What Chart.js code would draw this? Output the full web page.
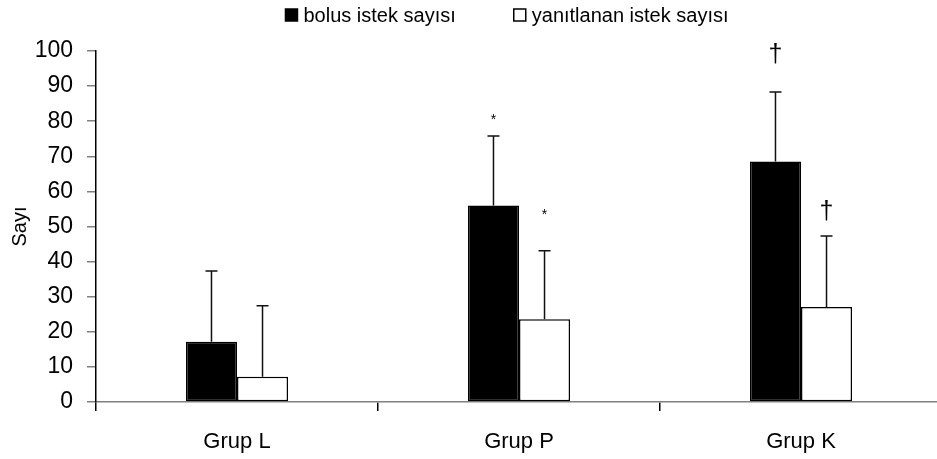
<!DOCTYPE html>
<html>
<head>
<meta charset="utf-8">
<script src="https://cdn.jsdelivr.net/npm/chart.js@4/dist/chart.umd.min.js"></script>
<style>
  html, body { margin: 0; padding: 0; background: #fff; overflow: hidden; }
  #wrap { width: 942px; height: 459px; }
</style>
</head>
<body>
<div id="wrap"><canvas id="chart" width="942" height="459"></canvas></div>
<script>
const groups = ['Grup L', 'Grup P', 'Grup K']
const seriesNames = ['bolus istek sayısı', 'yanıtlanan istek sayısı']
const bolusValues = [17.2, 56, 68.5]
const bolusSd = [20.1, 19.8, 19.8]
const answeredValues = [7.2, 23.6, 27.1]
const answeredSd = [20.2, 19.5, 20.2]
const yTicks = [0, 10, 20, 30, 40, 50, 60, 70, 80, 90, 100]
// significance marks above bars: [dataset][group], and where they sit on the y scale
const marks = [['', '*', '†'], ['', '*', '†']]
const markValues = [[0, 81.2, 98.9], [0, 54.1, 54.2]]

Chart.defaults.color = '#000'
Chart.defaults.font.family = '"Liberation Sans", Arial, sans-serif'

const errorBars = {
    id: 'errorBars',
    afterDatasetsDraw(chart) {
        const c = chart.ctx
        const y = chart.scales.y
        chart.data.datasets.forEach((ds, i) => {
            const meta = chart.getDatasetMeta(i)
            meta.data.forEach((bar, j) => {
                const top = y.getPixelForValue(ds.data[j] + ds.sd[j])
                const base = y.getPixelForValue(ds.data[j])
                c.save()
                c.strokeStyle = '#111'
                c.lineWidth = 1.5
                c.beginPath()
                c.moveTo(bar.x, base)
                c.lineTo(bar.x, top)
                c.moveTo(bar.x - 6, top)
                c.lineTo(bar.x + 6, top)
                c.stroke()
                const m = marks[i][j]
                if (m) {
                    c.fillStyle = '#000'
                    c.font = m === '*' ? '14px "Liberation Sans", Arial' : '25px "Liberation Sans", Arial'
                    c.textAlign = 'center'
                    c.textBaseline = 'middle'
                    c.fillText(m, bar.x, y.getPixelForValue(markValues[i][j]) + (m === '*' ? 3 : 0))
                }
                c.restore()
            })
        })
    }
}

const topLegend = {
    id: 'topLegend',
    afterDraw(chart) {
        const c = chart.ctx
        c.save()
        c.font = '20px "Liberation Sans", Arial'
        c.textBaseline = 'middle'
        const box = 12, gap = 6, between = 58
        const widths = chart.data.datasets.map(ds => c.measureText(ds.label).width)
        const total = widths.reduce((a, w) => a + box + gap + w, 0) + between
        let x = 507 - total / 2
        const cy = 15
        chart.data.datasets.forEach((ds, i) => {
            c.fillStyle = ds.backgroundColor
            c.fillRect(x, cy - box / 2, box, box)
            c.strokeStyle = '#000'
            c.lineWidth = 1.5
            c.strokeRect(x, cy - box / 2, box, box)
            c.fillStyle = '#000'
            c.fillText(ds.label, x + box + gap, cy + 1)
            x += box + gap + widths[i] + between
        })
        c.restore()
    }
}

new Chart(document.getElementById('chart'), {
    type: 'bar',
    data: {
        labels: groups,
        datasets: [{
            label: seriesNames[0],
            data: bolusValues,
            sd: bolusSd,
            backgroundColor: '#000',
            borderColor: '#000',
            borderWidth: 1.5,
            borderSkipped: false
        }, {
            label: seriesNames[1],
            data: answeredValues,
            sd: answeredSd,
            backgroundColor: '#fff',
            borderColor: '#000',
            borderWidth: 1.5,
            borderSkipped: false
        }]
    },
    options: {
        responsive: false,
        animation: false,
        datasets: { bar: { categoryPercentage: 0.362, barPercentage: 1 } },
        layout: { padding: { top: 51, left: 0, right: 0, bottom: 0 } },
        plugins: { legend: { display: false }, tooltip: { enabled: false } },
        scales: {
            x: {
                grid: { offset: true, drawOnChartArea: false, tickLength: 9, color: '#000', lineWidth: 1.5 },
                border: { color: '#808080', width: 1.5 },
                ticks: { font: { size: 22 }, padding: 18 },
                afterFit: s => { s.height = 57 }
            },
            y: {
                min: 0,
                max: 100,
                afterBuildTicks: s => { s.ticks = yTicks.map(v => ({ value: v })) },
                grid: { drawOnChartArea: false, tickLength: 9, color: '#808080', lineWidth: 1.5 },
                border: { color: '#000', width: 1.5 },
                ticks: { font: { size: 23 }, padding: 14 },
                title: { display: true, text: 'Sayı', font: { size: 20 }, padding: 8 },
                afterFit: s => { s.width = 96 }
            }
        }
    },
    plugins: [errorBars, topLegend]
})
</script>
</body>
</html>
